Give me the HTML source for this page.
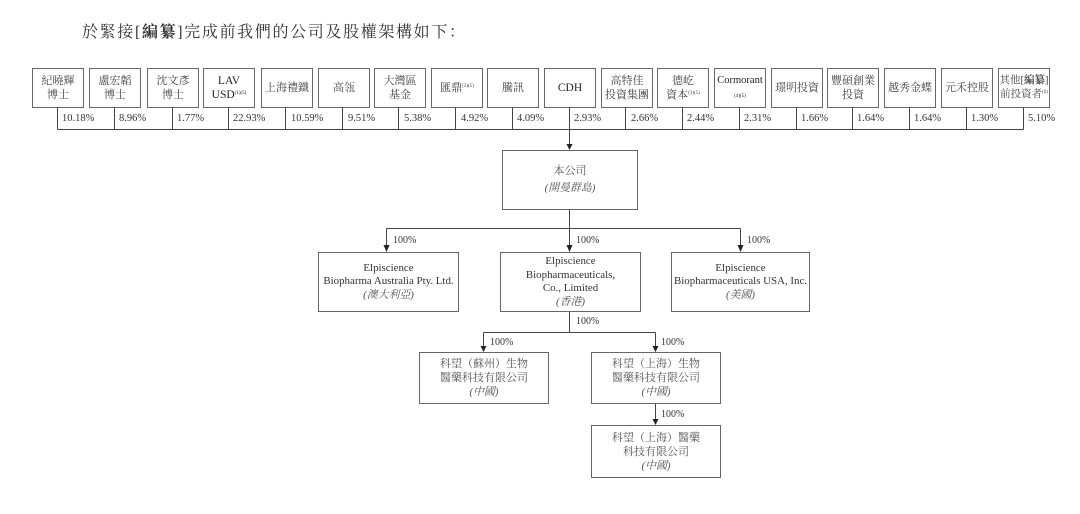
<!DOCTYPE html>
<html>
<head>
<meta charset="utf-8">
<style>
  html, body { margin:0; padding:0; background:#fff; }
  body { width:1080px; height:514px; position:relative; overflow:hidden;
         font-family:"Liberation Serif","Noto Serif CJK SC","Noto Serif CJK TC",serif; color:#333; }
  .title { position:absolute; left:82px; top:23px; font-size:16px; letter-spacing:1.65px; line-height:20px; color:#333; white-space:nowrap; }
  .tb { position:absolute; top:68px; width:52px; height:40px; box-sizing:border-box; border:1px solid #666;
        display:flex; align-items:center; justify-content:center; text-align:center;
        font-size:11px; line-height:14px; color:#444; white-space:nowrap; }
  .tb sup { font-size:5px; vertical-align:4px; line-height:0; }
  .en { color:#222; font-size:11.5px; }
  .pct { position:absolute; top:113px; font-size:10.5px; line-height:12px; color:#333; white-space:nowrap; }
  .bx { position:absolute; box-sizing:border-box; border:1px solid #666;
        display:flex; align-items:center; justify-content:center; text-align:center;
        font-size:10.9px; line-height:13.5px; color:#333; white-space:nowrap; }
  .cj { font-size:11px; color:#555; }
  .it { font-style:italic; color:#555; }
  .lbl { position:absolute; font-size:10px; line-height:12px; color:#333; }
  svg { position:absolute; left:0; top:0; }
</style>
</head>
<body>
<div class="title">於緊接[<b>編纂</b>]完成前我們的公司及股權架構如下：</div>

<!-- top shareholder boxes -->
<div class="tb" style="left:32px"><div>紀曉輝<br>博士</div></div>
<div class="tb" style="left:89px"><div>盧宏韜<br>博士</div></div>
<div class="tb" style="left:147px"><div>沈文彥<br>博士</div></div>
<div class="tb" style="left:203px"><div class="en">LAV<br>USD<sup>(1)(5)</sup></div></div>
<div class="tb" style="left:261px"><div>上海禮鐵</div></div>
<div class="tb" style="left:318px"><div>高瓴</div></div>
<div class="tb" style="left:374px"><div>大灣區<br>基金</div></div>
<div class="tb" style="left:431px"><div>匯鼎<sup>(2)(5)</sup></div></div>
<div class="tb" style="left:487px"><div>騰訊</div></div>
<div class="tb" style="left:544px"><div class="en">CDH</div></div>
<div class="tb" style="left:601px"><div>高特佳<br>投資集團</div></div>
<div class="tb" style="left:657px"><div>德屹<br>資本<sup>(3)(5)</sup></div></div>
<div class="tb" style="left:714px"><div class="en" style="font-size:10.5px">Cormorant<br><span style="font-size:5px;line-height:8px">(4)(5)</span></div></div>
<div class="tb" style="left:771px"><div>璟明投資</div></div>
<div class="tb" style="left:827px"><div>豐碩創業<br>投資</div></div>
<div class="tb" style="left:884px"><div>越秀金蝶</div></div>
<div class="tb" style="left:941px"><div>元禾控股</div></div>
<div class="tb" style="left:998px"><div style="font-size:10.5px">其他[<b>編纂</b>]<br>前投資者<sup>(6)</sup></div></div>

<!-- percentages -->
<div class="pct" style="left:62px">10.18%</div>
<div class="pct" style="left:119px">8.96%</div>
<div class="pct" style="left:177px">1.77%</div>
<div class="pct" style="left:233px">22.93%</div>
<div class="pct" style="left:291px">10.59%</div>
<div class="pct" style="left:348px">9.51%</div>
<div class="pct" style="left:404px">5.38%</div>
<div class="pct" style="left:461px">4.92%</div>
<div class="pct" style="left:517px">4.09%</div>
<div class="pct" style="left:574px">2.93%</div>
<div class="pct" style="left:631px">2.66%</div>
<div class="pct" style="left:687px">2.44%</div>
<div class="pct" style="left:744px">2.31%</div>
<div class="pct" style="left:801px">1.66%</div>
<div class="pct" style="left:857px">1.64%</div>
<div class="pct" style="left:914px">1.64%</div>
<div class="pct" style="left:971px">1.30%</div>
<div class="pct" style="left:1028px">5.10%</div>

<svg width="1080" height="514" viewBox="0 0 1080 514">
  <g stroke="#444" stroke-width="1" fill="none" shape-rendering="crispEdges">
    <path d="M57.5 107V129.5 M114.5 107V129.5 M172.5 107V129.5 M228.5 107V129.5 M285.5 107V129.5 M342.5 107V129.5 M398.5 107V129.5 M455.5 107V129.5 M512.5 107V129.5 M569.5 107V129.5 M625.5 107V129.5 M682.5 107V129.5 M739.5 107V129.5 M796.5 107V129.5 M852.5 107V129.5 M909.5 107V129.5 M966.5 107V129.5 M1023.5 107V129.5"/>
    <path d="M57.5 129.5H1023.5"/>
    <path d="M569.5 129.5V145"/>
    <path d="M569.5 209V228.5 M386.5 228.5H740.5 M386.5 228.5V246 M569.5 228.5V246 M740.5 228.5V246"/>
    <path d="M569.5 311V332.5 M483.5 332.5H655.5 M483.5 332.5V347 M655.5 332.5V347"/>
    <path d="M655.5 403V420"/>
  </g>
  <g fill="#222">
    <polygon points="566.5,144 572.5,144 569.5,150"/>
    <polygon points="383.5,245 389.5,245 386.5,252"/>
    <polygon points="566.5,245 572.5,245 569.5,252"/>
    <polygon points="737.5,245 743.5,245 740.5,252"/>
    <polygon points="480.5,346 486.5,346 483.5,352"/>
    <polygon points="652.5,346 658.5,346 655.5,352"/>
    <polygon points="652.5,419 658.5,419 655.5,425"/>
  </g>
</svg>

<!-- company -->
<div class="bx" style="left:502px;top:150px;width:136px;height:60px;line-height:17px;"><div><span class="cj">本公司</span><br><span class="it">(開曼群島)</span></div></div>

<div class="lbl" style="left:393px;top:235px">100%</div>
<div class="lbl" style="left:576px;top:235px">100%</div>
<div class="lbl" style="left:747px;top:235px">100%</div>

<div class="bx" style="left:318px;top:252px;width:141px;height:60px;"><div>Elpiscience<br>Biopharma Australia Pty. Ltd.<br><span class="it">(澳大利亞)</span></div></div>
<div class="bx" style="left:500px;top:252px;width:141px;height:60px;"><div>Elpiscience<br>Biopharmaceuticals,<br>Co., Limited<br><span class="it">(香港)</span></div></div>
<div class="bx" style="left:671px;top:252px;width:139px;height:60px;"><div>Elpiscience<br>Biopharmaceuticals USA, Inc.<br><span class="it">(美國)</span></div></div>

<div class="lbl" style="left:576px;top:316px">100%</div>
<div class="lbl" style="left:490px;top:337px">100%</div>
<div class="lbl" style="left:661px;top:337px">100%</div>

<div class="bx" style="left:419px;top:352px;width:130px;height:52px;line-height:14px;"><div><span class="cj">科望（蘇州）生物<br>醫藥科技有限公司</span><br><span class="it">(中國)</span></div></div>
<div class="bx" style="left:591px;top:352px;width:130px;height:52px;line-height:14px;"><div><span class="cj">科望（上海）生物<br>醫藥科技有限公司</span><br><span class="it">(中國)</span></div></div>

<div class="lbl" style="left:661px;top:409px">100%</div>

<div class="bx" style="left:591px;top:425px;width:130px;height:53px;line-height:14px;"><div><span class="cj">科望（上海）醫藥<br>科技有限公司</span><br><span class="it">(中國)</span></div></div>

</body>
</html>
